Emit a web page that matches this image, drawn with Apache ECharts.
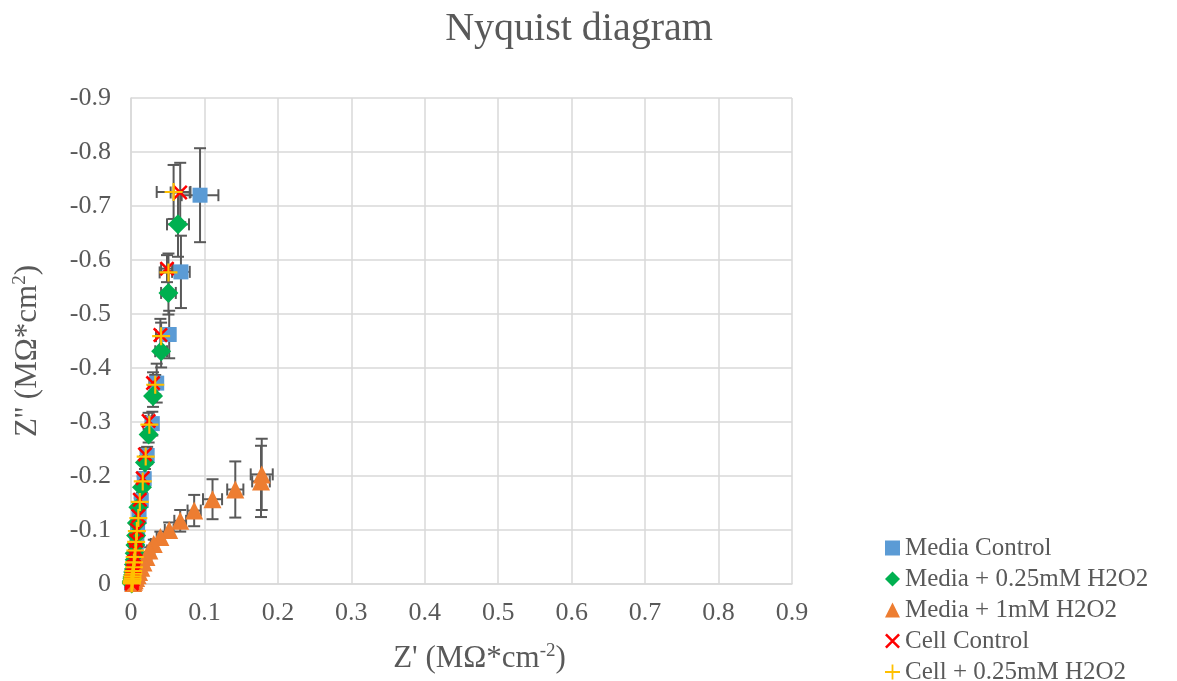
<!DOCTYPE html>
<html>
<head>
<meta charset="utf-8">
<script src="https://cdn.jsdelivr.net/npm/echarts@6/dist/echarts.min.js"></script>
<style>
  html, body { margin: 0; padding: 0; background: #fff; }
  #chart { width: 1177px; height: 681px; }
</style>
</head>
<body>
<div id="chart"></div>
<script>
// Axis ticks
const xTicks = [0, 0.1, 0.2, 0.3, 0.4, 0.5, 0.6, 0.7, 0.8, 0.9];
const yTicks = [-0.9, -0.8, -0.7, -0.6, -0.5, -0.4, -0.3, -0.2, -0.1, 0];

const seriesNames = ['Media Control', 'Media + 0.25mM H2O2', 'Media + 1mM H2O2', 'Cell Control', 'Cell + 0.25mM H2O2'];

// Media Control: Z' (x), Z'' (y) and their standard deviations
const mcX  = [0.094, 0.068, 0.052, 0.035, 0.029, 0.022, 0.018, 0.014, 0.011, 0.009, 0.008, 0.007, 0.006, 0.005, 0.005, 0.004, 0.004, 0.003, 0.003, 0.002, 0.002, 0.001, 0.001];
const mcY  = [-0.720, -0.578, -0.462, -0.372, -0.297, -0.238, -0.195, -0.155, -0.125, -0.100, -0.080, -0.064, -0.051, -0.041, -0.033, -0.026, -0.020, -0.015, -0.011, -0.008, -0.005, -0.003, -0.001];
const mcXe = [0.025, 0.012, 0.008, 0.006, 0.004, 0.003, 0.003, 0.002, 0.002, 0.002, 0.001, 0.001, 0.001, 0.001, 0.001, 0.001, 0.001, 0.001, 0.001, 0.001, 0.001, 0.001, 0.001];
const mcYe = [0.087, 0.067, 0.044, 0.036, 0.022, 0.016, 0.012, 0.010, 0.008, 0.006, 0.005, 0.004, 0.003, 0.003, 0.002, 0.002, 0.002, 0.001, 0.001, 0.001, 0.001, 0.001, 0.001];

// Media + 0.25mM H2O2
const m25X  = [0.064, 0.051, 0.041, 0.030, 0.024, 0.019, 0.015, 0.010, 0.008, 0.007, 0.006, 0.005, 0.005, 0.004, 0.004, 0.003, 0.003, 0.002, 0.002, 0.002, 0.001, 0.001, 0.001];
const m25Y  = [-0.666, -0.539, -0.431, -0.348, -0.277, -0.225, -0.179, -0.142, -0.113, -0.090, -0.072, -0.057, -0.045, -0.036, -0.028, -0.022, -0.017, -0.013, -0.010, -0.007, -0.005, -0.003, -0.001];
const m25Xe = [0.015, 0.010, 0.008, 0.005, 0.004, 0.003, 0.003, 0.002, 0.002, 0.002, 0.001, 0.001, 0.001, 0.001, 0.001, 0.001, 0.001, 0.001, 0.001, 0.001, 0.001, 0.001, 0.001];
const m25Ye = [0.060, 0.040, 0.030, 0.020, 0.015, 0.012, 0.010, 0.008, 0.006, 0.005, 0.004, 0.003, 0.003, 0.002, 0.002, 0.002, 0.001, 0.001, 0.001, 0.001, 0.001, 0.001, 0.001];

// Media + 1mM H2O2
const m1X  = [0.178, 0.177, 0.142, 0.111, 0.086, 0.067, 0.052, 0.040, 0.031, 0.025, 0.021, 0.017, 0.014, 0.011, 0.009, 0.007, 0.005, 0.004, 0.003];
const m1Y  = [-0.203, -0.190, -0.175, -0.157, -0.136, -0.117, -0.100, -0.087, -0.074, -0.062, -0.050, -0.040, -0.030, -0.022, -0.016, -0.011, -0.007, -0.004, -0.002];
const m1Xe = [0.015, 0.012, 0.011, 0.013, 0.009, 0.008, 0.006, 0.005, 0.004, 0.003, 0.003, 0.002, 0.002, 0.002, 0.001, 0.001, 0.001, 0.001, 0.001];
const m1Ye = [0.066, 0.066, 0.052, 0.037, 0.029, 0.020, 0.014, 0.010, 0.008, 0.006, 0.005, 0.004, 0.003, 0.002, 0.002, 0.001, 0.001, 0.001, 0.001];

// Cell Control
const ccX  = [0.067, 0.049, 0.040, 0.030, 0.024, 0.019, 0.016, 0.012, 0.010, 0.008, 0.007, 0.006, 0.005, 0.004, 0.004, 0.003, 0.003, 0.002, 0.002, 0.002, 0.001, 0.001, 0.001];
const ccY  = [-0.725, -0.584, -0.461, -0.372, -0.302, -0.240, -0.196, -0.156, -0.126, -0.100, -0.080, -0.064, -0.051, -0.041, -0.032, -0.025, -0.020, -0.015, -0.011, -0.008, -0.005, -0.003, -0.001];
const ccXe = [0.013, 0.008, 0.006, 0.005, 0.004, 0.003, 0.002, 0.002, 0.002, 0.001, 0.001, 0.001, 0.001, 0.001, 0.001, 0.001, 0.001, 0.001, 0.001, 0.001, 0.001, 0.001, 0.001];
const ccYe = [0.055, 0.025, 0.030, 0.020, 0.015, 0.012, 0.010, 0.008, 0.006, 0.005, 0.004, 0.003, 0.003, 0.002, 0.002, 0.002, 0.001, 0.001, 0.001, 0.001, 0.001, 0.001, 0.001];

// Cell + 0.25mM H2O2
const c25X  = [0.058, 0.051, 0.041, 0.033, 0.025, 0.020, 0.016, 0.012, 0.010, 0.008, 0.007, 0.006, 0.005, 0.004, 0.004, 0.003, 0.003, 0.002, 0.002, 0.002, 0.001, 0.001, 0.001];
const c25Y  = [-0.726, -0.577, -0.459, -0.369, -0.295, -0.236, -0.190, -0.152, -0.122, -0.098, -0.078, -0.062, -0.050, -0.040, -0.031, -0.024, -0.019, -0.014, -0.010, -0.007, -0.005, -0.003, -0.001];
const c25Xe = [0.023, 0.012, 0.007, 0.005, 0.004, 0.003, 0.002, 0.002, 0.002, 0.001, 0.001, 0.001, 0.001, 0.001, 0.001, 0.001, 0.001, 0.001, 0.001, 0.001, 0.001, 0.001, 0.001];
const c25Ye = [0.050, 0.035, 0.025, 0.018, 0.014, 0.011, 0.009, 0.007, 0.006, 0.005, 0.004, 0.003, 0.003, 0.002, 0.002, 0.002, 0.001, 0.001, 0.001, 0.001, 0.001, 0.001, 0.001];

const FONT = '"Liberation Serif", "Times New Roman", serif';
const TEXT = '#595959';
const GRID = '#d9d9d9';
const ERR = '#595959';

const CROSS = 'path://M0,1.2 L1.2,0 L10,8.8 L8.8,10 Z M8.8,0 L10,1.2 L1.2,10 L0,8.8 Z';
const PLUS = 'path://M4.4,0 H5.6 V4.4 H10 V5.6 H5.6 V10 H4.4 V5.6 H0 V4.4 H4.4 Z';

const groups = [
  { name: seriesNames[0], x: mcX,  y: mcY,  xe: mcXe,  ye: mcYe,  color: '#5b9bd5', symbol: 'rect',     size: 15 },
  { name: seriesNames[1], x: m25X, y: m25Y, xe: m25Xe, ye: m25Ye, color: '#00b050', symbol: 'diamond',  size: 20 },
  { name: seriesNames[2], x: m1X,  y: m1Y,  xe: m1Xe,  ye: m1Ye,  color: '#ed7d31', symbol: 'triangle', size: 18 },
  { name: seriesNames[3], x: ccX,  y: ccY,  xe: ccXe,  ye: ccYe,  color: '#ff0000', symbol: CROSS,      size: 15 },
  { name: seriesNames[4], x: c25X, y: c25Y, xe: c25Xe, ye: c25Ye, color: '#ffc000', symbol: PLUS,       size: 18 }
];

// Error bars with caps in both directions
function renderErrorBars(params, api) {
  const x = api.value(0), y = api.value(1), ex = api.value(2), ey = api.value(3);
  const top = api.coord([x, y - ey]);
  const bot = api.coord([x, y + ey]);
  const left = api.coord([x - ex, y]);
  const right = api.coord([x + ex, y]);
  const cap = 6;
  const style = { stroke: ERR, lineWidth: 2, fill: null };
  return {
    type: 'group',
    children: [
      { type: 'line', shape: { x1: top[0], y1: top[1], x2: bot[0], y2: bot[1] }, style },
      { type: 'line', shape: { x1: top[0] - cap, y1: top[1], x2: top[0] + cap, y2: top[1] }, style },
      { type: 'line', shape: { x1: bot[0] - cap, y1: bot[1], x2: bot[0] + cap, y2: bot[1] }, style },
      { type: 'line', shape: { x1: left[0], y1: left[1], x2: right[0], y2: right[1] }, style },
      { type: 'line', shape: { x1: left[0], y1: left[1] - cap, x2: left[0], y2: left[1] + cap }, style },
      { type: 'line', shape: { x1: right[0], y1: right[1] - cap, x2: right[0], y2: right[1] + cap }, style }
    ]
  };
}

const series = [];
groups.forEach((g, k) => {
  series.push({
    type: 'custom',
    name: 'err' + k,
    renderItem: renderErrorBars,
    data: g.x.map((v, i) => [v, g.y[i], g.xe[i], g.ye[i]]),
    encode: { x: 0, y: 1 },
    z: 1,
    silent: true
  });
});
groups.forEach(g => {
  series.push({
    type: 'scatter',
    name: g.name,
    symbol: g.symbol,
    symbolSize: g.size,
    itemStyle: { color: g.color, opacity: 1 },
    data: g.x.map((v, i) => [v, g.y[i]]),
    z: 2,
    animation: false
  });
});

const chart = echarts.init(document.getElementById('chart'), null, { renderer: 'canvas' });
chart.setOption({
  animation: false,
  backgroundColor: '#fff',
  title: {
    text: 'Nyquist diagram',
    left: 574, top: 4, textAlign: 'center',
    textStyle: { fontFamily: FONT, fontSize: 40, fontWeight: 'normal', color: TEXT }
  },
  legend: {
    orient: 'vertical',
    left: 880, top: 530, height: 220,
    itemWidth: 15, itemHeight: 15, itemGap: 5,
    data: seriesNames,
    textStyle: { fontFamily: FONT, fontSize: 25, color: TEXT, lineHeight: 26 }
  },
  grid: { left: 131, right: 385, top: 98, bottom: 94 },
  xAxis: {
    type: 'value',
    min: xTicks[0], max: xTicks[xTicks.length - 1], interval: 0.1,
    name: "Z' (MΩ*cm{sup|-2})",
    nameLocation: 'middle', nameGap: 58,
    nameTextStyle: {
      fontFamily: FONT, fontSize: 31, color: TEXT, lineHeight: 34,
      padding: [0, 0, 0, 36],
      rich: { sup: { fontFamily: FONT, fontSize: 19, color: TEXT, verticalAlign: 'top', lineHeight: 20 } }
    },
    axisLine: { show: true, lineStyle: { color: GRID, width: 1.5 } },
    axisTick: { show: false },
    splitLine: { show: true, lineStyle: { color: GRID, width: 1.5 } },
    axisLabel: {
      fontFamily: FONT, fontSize: 26, color: TEXT, margin: 16,
      formatter: v => String(Math.round(v * 10) / 10)
    }
  },
  yAxis: {
    type: 'value',
    inverse: true,
    min: yTicks[0], max: yTicks[yTicks.length - 1], interval: 0.1,
    name: "Z'' (MΩ*cm{sup|2})",
    nameLocation: 'middle', nameGap: 86, nameRotate: 90,
    nameTextStyle: {
      fontFamily: FONT, fontSize: 31, color: TEXT, lineHeight: 34,
      padding: [0, 20, 0, 0],
      rich: { sup: { fontFamily: FONT, fontSize: 19, color: TEXT, verticalAlign: 'top', lineHeight: 20 } }
    },
    axisLine: { show: true, lineStyle: { color: GRID, width: 1.5 } },
    axisTick: { show: false },
    splitLine: { show: true, lineStyle: { color: GRID, width: 1.5 } },
    axisLabel: {
      fontFamily: FONT, fontSize: 26, color: TEXT, margin: 20,
      formatter: v => String(Math.round(v * 10) / 10)
    }
  },
  series: series
});
</script>
</body>
</html>
